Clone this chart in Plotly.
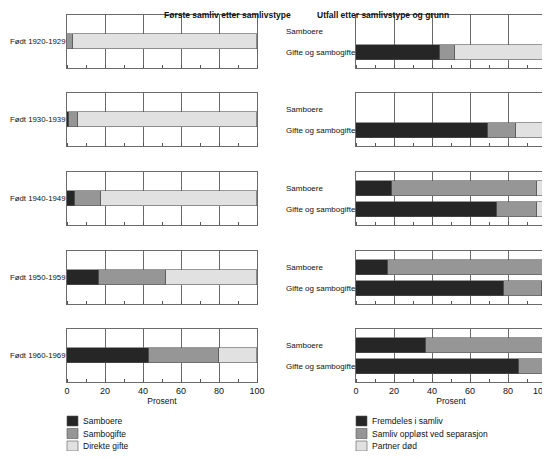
import plotly.graph_objects as go

# --- data -------------------------------------------------------------
cohorts = ["Født 1920-1929", "Født 1930-1939", "Født 1940-1949",
           "Født 1950-1959", "Født 1960-1969"]

left_series = ["Samboere", "Sambogifte", "Direkte gifte"]
left_samboere = [0, 1, 4, 17, 43]
left_sambogifte = [3, 5, 14, 35, 37]
left_direkte = [97, 94, 82, 48, 20]

right_cats = ["Gifte og sambogifte", "Samboere"]
right_series = ["Fremdeles i samliv", "Samliv oppløst ved separasjon", "Partner død"]
# per cohort: [gifte og sambogifte, samboere]
right_fremdeles = [[44, None], [69.5, None], [74, 19], [78, 17], [86, 37]]
right_separasjon = [[8, None], [14.5, None], [21, 76], [20, 82], [14, 63]]
right_dod = [[48, None], [16, None], [5, 5], [2, 1], [0, 0]]

pct_ticks = [0, 20, 40, 60, 80, 100]

colors = ["#262626", "#969696", "#e1e1e1"]
FONT = "Liberation Sans, Arial, sans-serif"
FS = 8.5

# the page body adds an 8px margin round the plot; size it so nothing scrolls
OFF = 8
W, H = 550 - OFF, 459 - 2 * OFF
left_x = (67, 257)
right_x = (356, 546)
panel_tops = [15, 93, 172, 251, 329]
panel_h = 53


def px(sx):
    return (sx - OFF) / W


def py(sy):
    return 1 - (sy - OFF) / H


fig = go.Figure()
annotations = []
shapes = []

for i, cohort in enumerate(cohorts):
    top = panel_tops[i]
    ydom = [py(top + panel_h), py(top)]
    last = i == len(cohorts) - 1
    for c in range(2):
        k = i * 2 + c + 1
        xa = "x" if k == 1 else f"x{k}"
        ya = "y" if k == 1 else f"y{k}"
        xs = left_x if c == 0 else right_x
        xdom = [px(xs[0]), min(px(xs[1]), 1.0)]
        xkey = "xaxis" if k == 1 else f"xaxis{k}"
        ykey = "yaxis" if k == 1 else f"yaxis{k}"
        tickvals = pct_ticks

        if c == 0:
            vals = [left_samboere[i], left_sambogifte[i], left_direkte[i]]
            for s, (name, v) in enumerate(zip(left_series, vals)):
                fig.add_trace(go.Bar(
                    x=[v], y=[cohort], orientation="h", name=name,
                    marker=dict(color=colors[s], line=dict(color="#555555", width=0.6)),
                    width=0.3, xaxis=xa, yaxis=ya,
                    showlegend=False, hoverinfo="skip"))
            yrange = [-0.5, 0.5]
            annotations.append(dict(text=cohort, x=0.0, xref="paper", xanchor="left",
                                    y=cohort, yref=ya, showarrow=False,
                                    font=dict(size=7.8, color="#111", family=FONT)))
        else:
            series_vals = [right_fremdeles[i], right_separasjon[i], right_dod[i]]
            for s, (name, v) in enumerate(zip(right_series, series_vals)):
                fig.add_trace(go.Bar(
                    x=v, y=right_cats, orientation="h", name=name,
                    marker=dict(color=colors[s], line=dict(color="#555555", width=0.6)),
                    width=0.71, xaxis=xa, yaxis=ya,
                    showlegend=False, hoverinfo="skip"))
            yrange = [-0.74, 1.79]
            for cat in right_cats:
                annotations.append(dict(text=cat, x=px(284), xref="paper", xanchor="left",
                                        y=cat, yref=ya, showarrow=False,
                                        font=dict(size=8, color="#111", family=FONT)))
            if last:
                # last label sits at the window edge: right-align it so it stays whole
                tickvals = pct_ticks[:-1]
                annotations.append(dict(text=str(pct_ticks[-1]), x=pct_ticks[-1], xref=xa,
                                        xanchor="right", xshift=4,
                                        y=py(391), yref="paper", yanchor="middle",
                                        showarrow=False,
                                        font=dict(size=FS + 0.5, family=FONT, color="#111")))

        fig.update_layout(**{
            xkey: dict(domain=xdom, anchor=ya, range=[0, 100], tickmode="array",
                       tickvals=tickvals,
                       showgrid=True, gridcolor="#6a6a6a", gridwidth=1,
                       showline=True, linecolor="#6a6a6a", linewidth=1, mirror=True,
                       zeroline=False, ticks="", showticklabels=last, automargin=False,
                       ticklabeloverflow="allow",
                       tickfont=dict(size=FS + 0.5, family=FONT, color="#111"),
                       title=dict(text="Prosent" if last else "", standoff=0,
                                  font=dict(size=FS, family=FONT, color="#111")),
                       minor=dict(ticks="inside", ticklen=3, dtick=10, tick0=0,
                                  tickcolor="#555555", showgrid=False),
                       fixedrange=True),
            ykey: dict(domain=ydom, anchor=xa, range=yrange, type="category",
                       categoryarray=[cohort] if c == 0 else right_cats,
                       categoryorder="array", automargin=False,
                       showticklabels=False, showgrid=False, ticks="",
                       showline=True, linecolor="#6a6a6a", linewidth=1, mirror=True,
                       zeroline=False, fixedrange=True),
        })

annotations.append(dict(text="<b>Første samliv etter samlivstype</b>",
                        x=px(sum(left_x) / 2), xref="paper", y=1, yref="paper",
                        yanchor="top", showarrow=False,
                        font=dict(size=FS, family=FONT, color="#111")))
annotations.append(dict(text="<b>Utfall etter samlivstype og grunn</b>",
                        x=px(sum(right_x) / 2), xref="paper", y=1, yref="paper",
                        yanchor="top", showarrow=False,
                        font=dict(size=FS, family=FONT, color="#111")))

# legends: swatch + label for each series, stacked under each column
for x0, names in ((left_x[0], left_series), (right_x[0], right_series)):
    for s, name in enumerate(names):
        yc = 421 + 12.5 * s
        shapes.append(dict(type="rect", xref="paper", yref="paper",
                           x0=px(x0), x1=px(x0 + 11),
                           y0=py(yc + 5), y1=py(yc - 5),
                           fillcolor=colors[s], line=dict(color="#555555", width=0.6)))
        annotations.append(dict(text=name, x=px(x0 + 14), xref="paper", xanchor="left",
                                y=py(yc), yref="paper", yanchor="middle",
                                showarrow=False,
                                font=dict(size=FS, family=FONT, color="#111")))

fig.update_layout(
    width=W, height=H,
    margin=dict(l=0, r=0, t=0, b=0),
    paper_bgcolor="white", plot_bgcolor="white",
    barmode="stack", bargap=0,
    showlegend=False,
    annotations=annotations,
    shapes=shapes,
    font=dict(family=FONT, size=FS, color="#111"),
)

fig.write_html("out.html")
